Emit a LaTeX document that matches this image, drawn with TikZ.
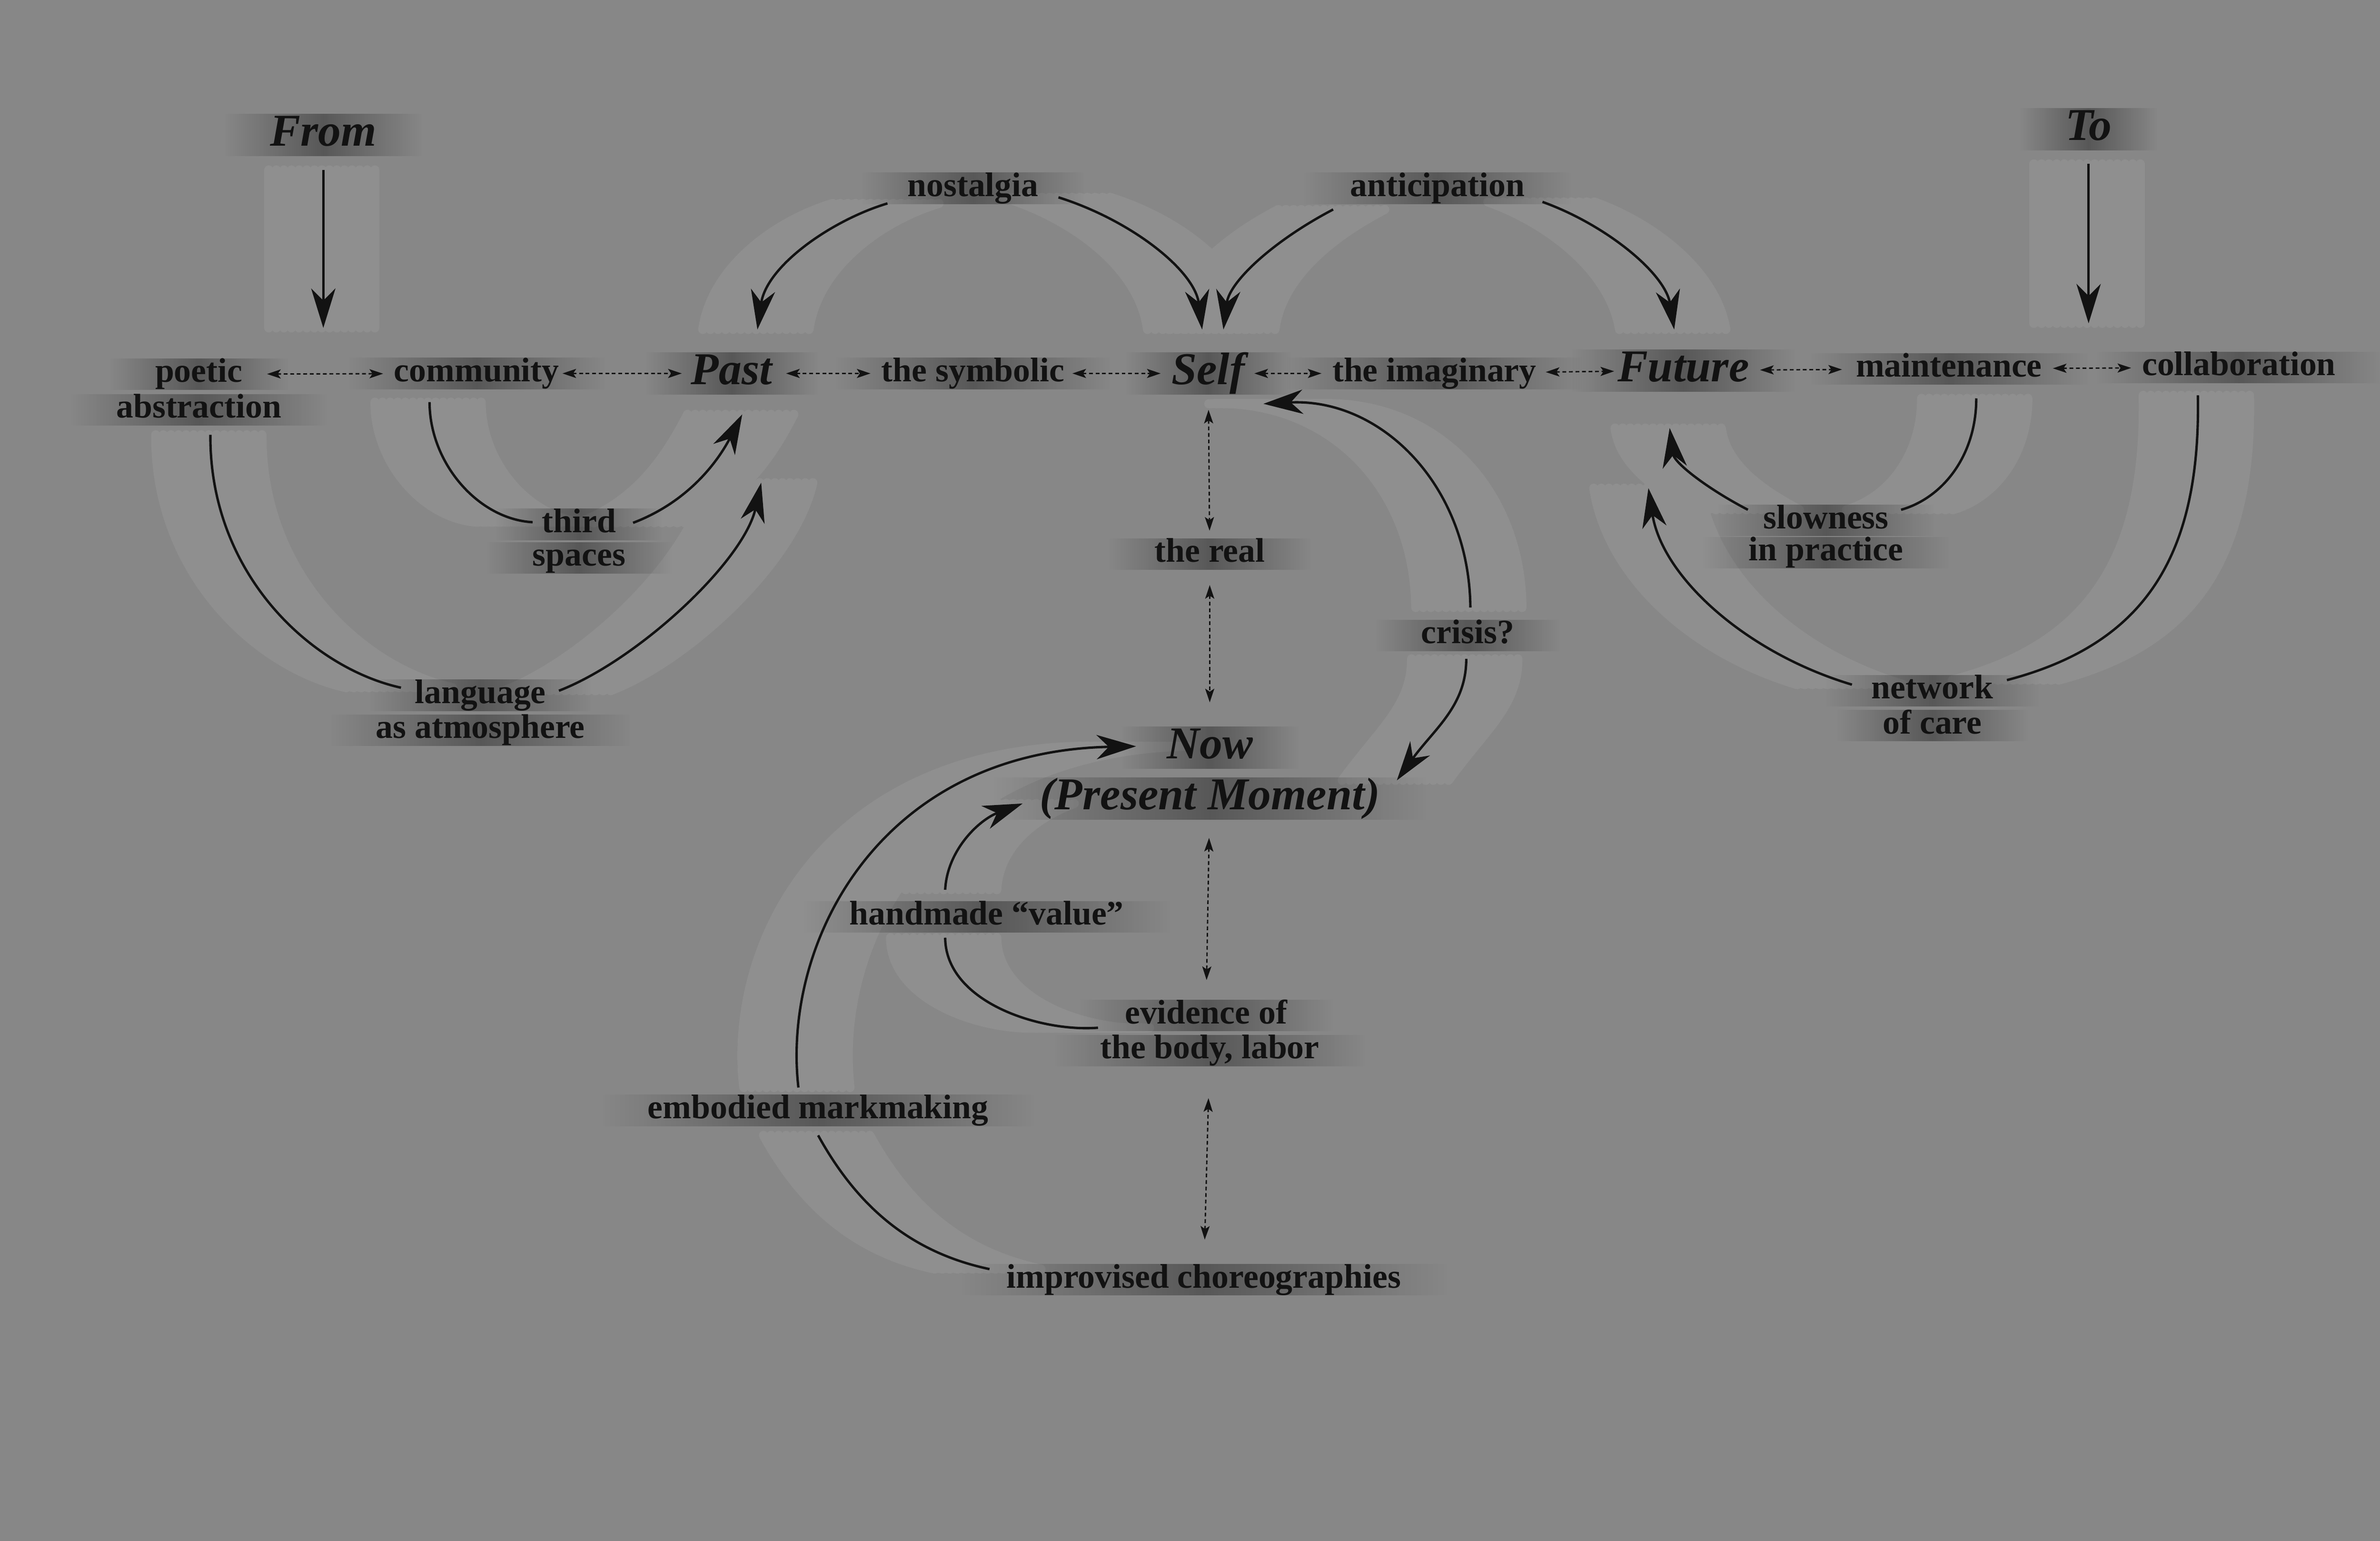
\documentclass[tikz,border=0pt]{standalone}
\usepackage{fontspec}
\setmainfont{Liberation Serif}
\usetikzlibrary{arrows.meta,fadings,backgrounds}
\definecolor{bg}{HTML}{878787}
\definecolor{ghost}{HTML}{8F8F8F}
\definecolor{ink}{HTML}{121212}
\tikzfading[name=smear, left color=transparent!100, right color=transparent!100, middle color=transparent!0]
\newcommand{\bigarcs}{%
  \draw[flow] ([shift={(0,9)}]From.south) -- (fromend);
  \draw[flow] ([shift={(0,9)}]To.south) -- (toend);
  \draw[flow] ([shift={(-13,10)}]nost.west) .. controls (548,145) and (505,175) .. ([shift={(17,-15)}]Past.north);
  \draw[flow] ([shift={(13,6)}]nost.east) .. controls (745,145) and (787,178) .. ([shift={(-4,-15)}]Self.north);
  \draw[flow] ([shift={(-11,14)}]antic.west) .. controls (840,158) and (810,185) .. ([shift={(10,-15)}]Self.north);
  \draw[flow] ([shift={(11.5,9)}]antic.east) .. controls (1058,148) and (1097,180) .. ([shift={(-6,-13)}]Future.north);
  \draw[flowline] ([shift={(7.6,6)}]abstr.south) .. controls (138,378) and (205,440) .. ([shift={(-9,-5)}]lang.west);
  \draw[flow] ([shift={(8.4,-3)}]lang.east) .. controls (420,435) and (490,370) .. ([shift={(19.5,58)}]Past.south);
  \draw[flowline] ([shift={(-31,8.5)}]community.south) .. controls (283,305) and (315,342) .. ([shift={(-6,-1.4)}]third.west);
  \draw[flow] ([shift={(11,-1)}]third.east) .. controls (455,330) and (474,302) .. ([shift={(7,13)}]Past.south);
  \draw[flow] ([shift={(1.7,-8)}]crisis.north) .. controls (968,320) and (910,262) .. ([shift={(12,20)}]Self.east);
  \draw[flow] ([shift={(-1,5)}]crisis.south) .. controls (966,465) and (945,480) .. ([shift={(11,2)}]present.north east);
  \draw[flow] ([shift={(-13,-4.7)}]embod.north) .. controls (515,620) and (580,495) .. ([shift={(-20,-1)}]now.west);
  \draw[flowline] ([shift={(0,6)}]embod.south) .. controls (565,795) and (600,825) .. ([shift={(-11,-7)}]improv.west);
  \draw[flowline] ([shift={(-17.5,8)}]evid.west) .. controls (685,680) and (623,660) .. ([shift={(-27.3,3.3)}]handm.south);
  \draw[flow] ([shift={(-27.3,-7.5)}]handm.north) .. controls (624,560) and (645,540) .. ([shift={(-11,3.3)}]present.west);
  \draw[flowline] ([shift={(18,9)}]maint.south) .. controls (1302,300) and (1280,328) .. ([shift={(8,-7)}]slow.east);
  \draw[flow] ([shift={(-10,-7)}]slow.west) .. controls (1125,322) and (1103,305) .. ([shift={(-9,24)}]Future.south);
  \draw[flowline] ([shift={(-27,8)}]collab.south) .. controls (1450,370) and (1410,425) .. ([shift={(9,-7)}]netw.east);
  \draw[flow] ([shift={(-12.7,-4)}]netw.west) .. controls (1150,430) and (1095,380) .. ([shift={(-23,63.6)}]Future.south);
}
\begin{document}
\begin{tikzpicture}[x=1pt, y=-1pt,
    lab/.style={text=ink, inner sep=0pt, text height=15.5pt, text depth=4.9pt,
      font=\bfseries\fontsize{22.5}{23}\selectfont},
    big/.style={text=ink, inner sep=0pt, text height=21pt, text depth=6.5pt,
      font=\bfseries\itshape\fontsize{30}{33}\selectfont},
    flow/.style={draw=ink, line width=1.6pt, -{Stealth[length=26pt, width=16pt, inset=8pt]}},
    flowline/.style={draw=ink, line width=1.6pt},
    link/.style={draw=ink, line width=0.9pt, dash pattern=on 2.5pt off 1.8pt,
      {Stealth[length=9pt, width=6pt, inset=2pt]}-{Stealth[length=9pt, width=6pt, inset=2pt]}},
    smudge/.style={fill=black, fill opacity=0.35, path fading=smear}]
  \useasboundingbox (0,0) rectangle (1568,1015);

  \node[big] (From) at (213,89) {From};
  \node[big] (To) at (1376,85) {To};
  \coordinate (fromend) at (213,216);
  \coordinate (toend) at (1376,213);
  \node[lab] (nost) at (641,124) {nostalgia};
  \node[lab] (antic) at (947,124) {anticipation};

  \node[lab] (poetic) at (131,246.5) {poetic};
  \node[lab] (abstr) at (131,270) {abstraction};
  \node[lab] (community) at (314,246) {community};
  \node[big] (Past) at (482,246) {Past};
  \node[lab] (symb) at (641,246) {the symbolic};
  \node[big] (Self) at (796,246) {Self};
  \node[lab] (imag) at (945,246) {the imaginary};
  \node[big] (Future) at (1109,244) {Future};
  \node[lab] (maint) at (1284,243) {maintenance};
  \node[lab] (collab) at (1475,242) {collaboration};

  \node[lab] (third) at (381.5,345.4) {third};
  \node[lab] (spaces) at (381.5,367.5) {spaces};
  \node[lab] (lang) at (316.5,458) {language};
  \node[lab] (atmos) at (316.5,481) {as atmosphere};
  \node[lab] (real) at (797,365) {the real};
  \node[lab] (crisis) at (967,418.6) {crisis?};
  \node[lab] (slow) at (1203,342.8) {slowness};
  \node[lab] (inpract) at (1203,364) {in practice};
  \node[lab] (netw) at (1273,455) {network};
  \node[lab] (ofcare) at (1273,478) {of care};

  \node[big] (now) at (797,492.6) {Now};
  \node[big] (present) at (797,526) {(Present Moment)};
  \node[lab] (handm) at (650,604) {handmade “value”};
  \node[lab] (evid) at (794.5,669) {evidence of};
  \node[lab] (body) at (797,692) {the body, labor};
  \node[lab] (embod) at (539,731.5) {embodied markmaking};
  \node[lab] (improv) at (793,843) {improvised choreographies};

  \draw[link, shorten <=16pt, shorten >=7pt] (poetic) -- (community);
  \draw[link, shorten <=2pt, shorten >=6pt] (community) -- (Past);
  \draw[link, shorten <=9pt, shorten >=7pt] (Past) -- (symb);
  \draw[link, shorten <=5pt, shorten >=7pt] (symb) -- (Self);
  \draw[link, shorten <=6pt, shorten >=7pt] (Self) -- (imag);
  \draw[link, shorten <=6pt, shorten >=2pt] (imag) -- (Future);
  \draw[link, shorten <=7pt, shorten >=9pt] (Future) -- (maint);
  \draw[link, shorten <=7pt, shorten >=7pt] (maint) -- (collab);
  \draw[link, shorten <=10pt, shorten >=5pt] (Self) -- (real);
  \draw[link, shorten <=10pt, shorten >=16pt] (real) -- (now);
  \draw[link, shorten <=12pt, shorten >=13pt] (present) -- (evid);
  \draw[link, shorten <=21pt, shorten >=16pt] (body) -- (improv);

  \bigarcs

  \begin{scope}[on background layer]
    \fill[bg] (0,0) rectangle (1568,1015);
    \begin{scope}[flow/.style={draw=ghost, line width=6pt, line cap=round},
        flowline/.style={draw=ghost, line width=6pt, line cap=round}]
      \foreach \dx in {-36,-31,...,36}
        {\begin{scope}[transform canvas={xshift=\dx pt}] \bigarcs \end{scope}}
    \end{scope}
    \foreach \n in {From,To,nost,antic,poetic,abstr,community,Past,symb,Self,imag,Future,
        maint,collab,third,spaces,lang,atmos,real,crisis,slow,inpract,netw,ofcare,
        now,present,handm,evid,body,embod,improv}
      \fill[smudge] ([xshift=-30pt]\n.south west) rectangle ([xshift=30pt]\n.north east);
  \end{scope}
\end{tikzpicture}
\end{document}
